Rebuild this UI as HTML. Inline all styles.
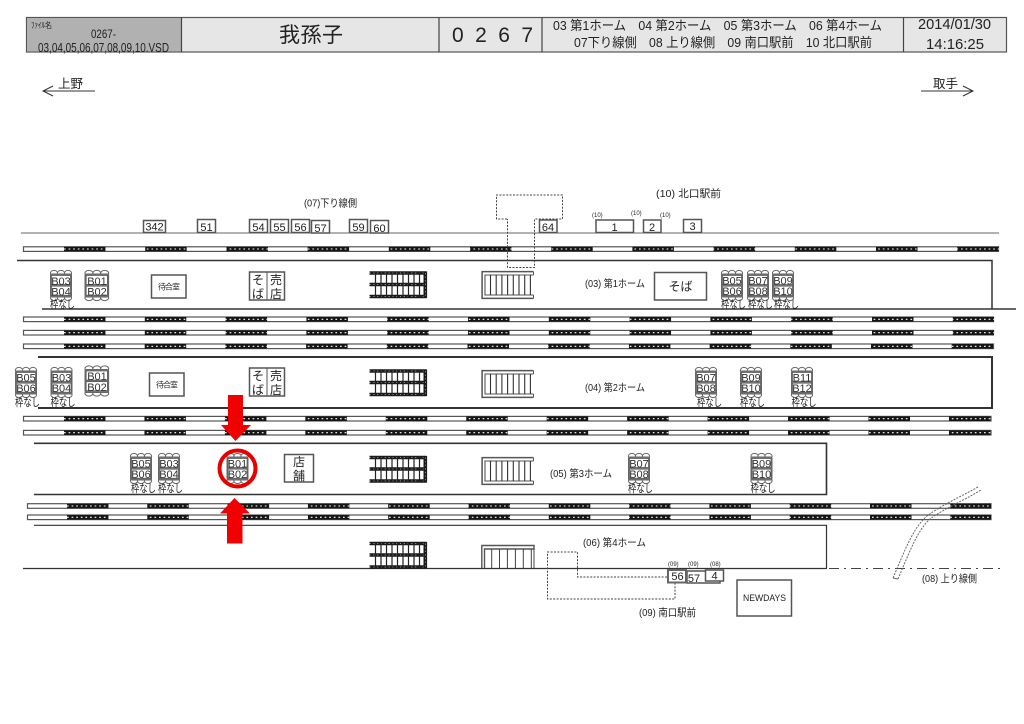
<!DOCTYPE html>
<html lang="ja"><head><meta charset="utf-8"><title>我孫子 0267</title>
<style>
html,body{margin:0;padding:0;background:#fff}
svg{display:block}
text{font-family:"Liberation Sans","Noto Sans CJK JP",sans-serif;fill:#222}
.s{font-size:8px}.m{font-size:10.5px}.b{font-size:11px}.w{font-size:12px}
.n{font-size:11px;text-anchor:middle}
.c{font-size:11px;text-anchor:middle;fill:#333}
.h{font-size:13px}
.l{stroke:#333;fill:none}
.bx{fill:#fff;stroke:#555;stroke-width:1.5}
.rail{fill:#fff;stroke:#555;stroke-width:1.2}
.dk{stroke:#151515;stroke-width:4.6}
.dt{stroke:#fff;stroke-width:1.1;stroke-dasharray:1.7 2.9}
.dot{fill:none;stroke:#444;stroke-width:1;stroke-dasharray:2 1.4}
</style></head><body>
<svg width="1024" height="724" viewBox="0 0 1024 724" xmlns="http://www.w3.org/2000/svg">
<defs>
<g id="cl">
<ellipse cx="4" cy="3.2" rx="3.6" ry="2.8" fill="#fff" stroke="#666"/><ellipse cx="11" cy="3.2" rx="3.6" ry="2.8" fill="#fff" stroke="#666"/><ellipse cx="18" cy="3.2" rx="3.6" ry="2.8" fill="#fff" stroke="#666"/>
<ellipse cx="4" cy="27.8" rx="3.6" ry="2.8" fill="#fff" stroke="#666"/><ellipse cx="11" cy="27.8" rx="3.6" ry="2.8" fill="#fff" stroke="#666"/><ellipse cx="18" cy="27.8" rx="3.6" ry="2.8" fill="#fff" stroke="#666"/>
<rect x=".5" y="4" width="21" height="23" rx="1.5" fill="#777" stroke="#666"/>
<rect x="1.5" y="5.5" width="19" height="9" fill="#fff" stroke="#555" stroke-width=".7"/>
<rect x="1.5" y="16.2" width="19" height="9" fill="#fff" stroke="#555" stroke-width=".7"/>
</g>
<g id="esc">
<path d="M0 1H57M0 12.5H54M0 24.5H57" stroke="#1a1a1a" stroke-width="3.4" fill="none"/>
<path d="M0 1H57M0 12.5H54M0 24.5H57" stroke="#bbb" stroke-width=".7" stroke-dasharray="1.2 2.6" fill="none"/>
<path d="M6 0V25M11.5 0V25M17 0V25M22.5 0V25M28 0V25M33.5 0V25M39 0V25M44.5 0V25M50 0V25" stroke="#222" stroke-width="1.2"/>
<rect x="54" y="-.5" width="3.6" height="26.5" fill="#1a1a1a"/>
<path d="M56 1V25" stroke="#bbb" stroke-dasharray="1.2 2.4" stroke-width=".7"/>
</g>
<g id="st">
<path d="M52 .6H.6V27.4H52" fill="none" stroke="#555" stroke-width="1.5"/>
<path d="M52 4H3.5V24H52" fill="none" stroke="#555" stroke-width="1.1"/>
<path d="M9 4V24M14.7 4V24M20.4 4V24M26.1 4V24M31.8 4V24M37.5 4V24M43.2 4V24M48.9 4V24" stroke="#333" stroke-width="1.1"/>
<path d="M52 .6V4M52 24V27.4" stroke="#555" stroke-width="1"/>
</g>
</defs>

<!-- header -->
<rect x="26.5" y="17.5" width="980" height="34.5" fill="#e6e6e6" stroke="#555" stroke-width="1.2"/>
<rect x="27" y="18" width="154.5" height="33.5" fill="#b1b1b1"/>
<path d="M181.5 17.5V52M439 17.5V52M542 17.5V52M903.5 17.5V52" stroke="#444" stroke-width="1.2"/>
<text x="31" y="28" class="s" textLength="21" lengthAdjust="spacingAndGlyphs">ﾌｧｲﾙ名</text>
<text x="91" y="38" style="font-size:12px" textLength="25" lengthAdjust="spacingAndGlyphs">0267-</text>
<text x="38" y="52" style="font-size:13px" textLength="131" lengthAdjust="spacingAndGlyphs">03,04,05,06,07,08,09,10.VSD</text>
<text x="279" y="42" style="font-size:21px" textLength="64">我孫子</text>
<text x="452" y="42" style="font-size:21px" textLength="81">0267</text>
<text x="553" y="30" class="h" textLength="329" lengthAdjust="spacingAndGlyphs">03 第1ホーム　04 第2ホーム　05 第3ホーム　06 第4ホーム</text>
<text x="574" y="47" class="h" textLength="298" lengthAdjust="spacingAndGlyphs">07下り線側　08 上り線側　09 南口駅前　10 北口駅前</text>
<text x="918" y="29" style="font-size:15px" textLength="73" lengthAdjust="spacingAndGlyphs">2014/01/30</text>
<text x="926" y="49" style="font-size:15px" textLength="58" lengthAdjust="spacingAndGlyphs">14:16:25</text>

<!-- direction -->
<path d="M43 91H95M53 86L43 91L53 96M921 91H973M963 86L973 91L963 96" class="l" stroke-width="1"/>
<text x="58" y="88" style="font-size:12.5px">上野</text>
<text x="933" y="88" style="font-size:12.5px">取手</text>

<!-- lines -->
<path d="M21 233H999" stroke="#666" stroke-width="1.1"/>
<path d="M17 260.5H992V309M42 309H1016" class="l" stroke-width="1.5"/>
<path d="M38 357H992V408H38" class="l" stroke-width="2"/>
<path d="M34 443.3H826.5V494.5H34" class="l" stroke-width="1.6"/>
<path d="M34 525.3H826.5V568.5M23 568.5H827" class="l" stroke-width="1.2"/>
<path d="M829 568.5H1003" stroke="#444" stroke-width="1" stroke-dasharray="10 5 2 5"/>

<!-- tracks -->
<rect x="23.5" y="246.8" width="975" height="4.6" class="rail"/><line x1="64" x2="999" y1="249" y2="249" class="dk" stroke-dasharray="41.5 39.7"/><line x1="64" x2="999" y1="249" y2="249" class="dt"/>
<rect x="23.5" y="317" width="970" height="4.6" class="rail"/><line x1="64" x2="994" y1="319.3" y2="319.3" class="dk" stroke-dasharray="41.5 39.3"/><line x1="64" x2="994" y1="319.3" y2="319.3" class="dt"/>
<rect x="23.5" y="330.4" width="970" height="4.6" class="rail"/><line x1="64" x2="994" y1="332.7" y2="332.7" class="dk" stroke-dasharray="41.5 39.3"/><line x1="64" x2="994" y1="332.7" y2="332.7" class="dt"/>
<rect x="23.5" y="344" width="970" height="4.6" class="rail"/><line x1="64" x2="993" y1="346.3" y2="346.3" class="dk" stroke-dasharray="41.5 39.2"/><line x1="64" x2="993" y1="346.3" y2="346.3" class="dt"/>
<rect x="23.5" y="416.4" width="967.5" height="4.6" class="rail"/><line x1="64" x2="991" y1="418.7" y2="418.7" class="dk" stroke-dasharray="41.5 38.95"/><line x1="64" x2="991" y1="418.7" y2="418.7" class="dt"/>
<rect x="23.5" y="430.4" width="967.5" height="4.6" class="rail"/><line x1="64" x2="991" y1="432.7" y2="432.7" class="dk" stroke-dasharray="41.5 38.95"/><line x1="64" x2="991" y1="432.7" y2="432.7" class="dt"/>
<rect x="27.5" y="503.7" width="963.5" height="4.6" class="rail"/><line x1="67" x2="991" y1="506" y2="506" class="dk" stroke-dasharray="41.5 38.8"/><line x1="67" x2="991" y1="506" y2="506" class="dt"/>
<rect x="27.5" y="515" width="963.5" height="4.6" class="rail"/><line x1="67" x2="991" y1="517.3" y2="517.3" class="dk" stroke-dasharray="41.5 38.8"/><line x1="67" x2="991" y1="517.3" y2="517.3" class="dt"/>

<!-- top boxes -->
<rect x="143.5" y="220.5" width="22" height="12" class="bx"/><text x="154.5" y="230.5" class="n">342</text>
<rect x="197.5" y="219.5" width="18" height="13" class="bx"/><text x="206.5" y="231" class="n">51</text>
<rect x="249.5" y="219.5" width="18" height="13" class="bx"/><text x="258.5" y="231" class="n">54</text>
<rect x="270.5" y="219.5" width="18" height="13" class="bx"/><text x="279.5" y="231" class="n">55</text>
<rect x="291.5" y="219.5" width="18" height="13" class="bx"/><text x="300.5" y="231" class="n">56</text>
<rect x="311.5" y="220.5" width="18" height="12.5" class="bx"/><text x="320.5" y="232" class="n">57</text>
<rect x="349.5" y="219.5" width="18" height="13" class="bx"/><text x="358.5" y="231" class="n">59</text>
<rect x="370.5" y="220.5" width="18" height="12.5" class="bx"/><text x="379.5" y="232" class="n">60</text>
<rect x="539.5" y="220" width="17.5" height="12.5" class="bx"/><text x="548" y="231" class="n">64</text>
<rect x="596" y="220" width="37.5" height="12.5" class="bx"/><text x="614.5" y="231" class="n">1</text>
<rect x="643.5" y="220" width="17.5" height="12.5" class="bx"/><text x="652" y="231" class="n">2</text>
<rect x="683.5" y="219.5" width="18" height="13" class="bx"/><text x="692.5" y="230" class="n">3</text>
<text x="304" y="206.5" class="m" textLength="53" lengthAdjust="spacingAndGlyphs">(07)下り線側</text>
<text x="656" y="197" class="m" textLength="65" lengthAdjust="spacingAndGlyphs">(10) 北口駅前</text>
<text x="592" y="217" style="font-size:6px">(10)</text><text x="631" y="215" style="font-size:6px">(10)</text><text x="660" y="217" style="font-size:6px">(10)</text>

<!-- dotted concourse -->
<path d="M507 219H496.5V195H562.5V219H534.5V267.5H507.5V219" class="dot"/>

<!-- escalators -->
<use href="#esc" x="369.5" y="272"/><use href="#esc" x="369.5" y="370"/><use href="#esc" x="369.5" y="456.5"/><use href="#esc" x="369.5" y="542.5"/>
<!-- stairs -->
<use href="#st" x="481.5" y="271"/><use href="#st" x="481.5" y="370"/><use href="#st" x="481.5" y="457"/>
<path d="M481.8 568V545.5H534V549H484.5V568M534 545.5V549" fill="none" stroke="#555" stroke-width="1.4"/>
<path d="M491.7 549V568M499.5 549V568M507.4 549V568M515.4 549V568M523.3 549V568M531.3 549V568M534 549V568" stroke="#444"/>

<!-- rooms -->
<rect x="151.5" y="275" width="34.5" height="23" class="bx"/><text x="158" y="289.5" class="s" textLength="22">待合室</text>
<rect x="149.5" y="373" width="34.5" height="23" class="bx"/><text x="156" y="387.5" class="s" textLength="22">待合室</text>
<rect x="249.5" y="272" width="35" height="28" class="bx"/><path d="M267 272V300" stroke="#555"/>
<text x="258" y="284" class="w" text-anchor="middle">そ</text><text x="258" y="298" class="w" text-anchor="middle">ば</text><text x="276" y="284" class="w" text-anchor="middle">売</text><text x="276" y="298" class="w" text-anchor="middle">店</text>
<rect x="249.5" y="368" width="35" height="28" class="bx"/><path d="M267 368V396" stroke="#555"/>
<text x="258" y="380" class="w" text-anchor="middle">そ</text><text x="258" y="394" class="w" text-anchor="middle">ば</text><text x="276" y="380" class="w" text-anchor="middle">売</text><text x="276" y="394" class="w" text-anchor="middle">店</text>
<rect x="654.5" y="272.5" width="52" height="27.5" class="bx"/><text x="680.5" y="290.5" class="w" text-anchor="middle">そば</text>
<rect x="284.5" y="454.5" width="29" height="27.5" class="bx"/><text x="299" y="466" class="w" text-anchor="middle">店</text><text x="299" y="480" class="w" text-anchor="middle">舗</text>

<!-- labels -->
<text x="585" y="287" class="m" textLength="60" lengthAdjust="spacingAndGlyphs">(03) 第1ホーム</text>
<text x="585" y="391" class="m" textLength="60" lengthAdjust="spacingAndGlyphs">(04) 第2ホーム</text>
<text x="550" y="477" class="m" textLength="62" lengthAdjust="spacingAndGlyphs">(05) 第3ホーム</text>
<text x="583" y="546" class="m" textLength="63" lengthAdjust="spacingAndGlyphs">(06) 第4ホーム</text>
<text x="639" y="616" class="m" textLength="57" lengthAdjust="spacingAndGlyphs">(09) 南口駅前</text>
<text x="922" y="582" class="m" textLength="55" lengthAdjust="spacingAndGlyphs">(08) 上り線側</text>

<!-- clusters platform 1 -->
<use href="#cl" x="50" y="270"/><text x="61" y="285" class="c">B03</text><text x="61" y="295.5" class="c">B04</text><text x="50" y="308" class="b" textLength="25" lengthAdjust="spacingAndGlyphs">枠なし</text>
<use href="#cl" transform="translate(84.5 270) scale(1.12 1)"/><text x="97" y="285" class="c">B01</text><text x="97" y="295.5" class="c">B02</text>
<use href="#cl" x="721" y="270"/><text x="732" y="284.5" class="c">B05</text><text x="732" y="295" class="c">B06</text><text x="721" y="308" class="b" textLength="25" lengthAdjust="spacingAndGlyphs">枠なし</text>
<use href="#cl" x="747" y="270"/><text x="758" y="284.5" class="c">B07</text><text x="758" y="295" class="c">B08</text><text x="748" y="308" class="b" textLength="25" lengthAdjust="spacingAndGlyphs">枠なし</text>
<use href="#cl" x="772" y="270"/><text x="783" y="284.5" class="c">B09</text><text x="783" y="295" class="c">B10</text><text x="774" y="308" class="b" textLength="25" lengthAdjust="spacingAndGlyphs">枠なし</text>
<!-- platform 2 -->
<use href="#cl" x="15" y="367"/><text x="26" y="381.5" class="c">B05</text><text x="26" y="392" class="c">B06</text><text x="15" y="406" class="b" textLength="25" lengthAdjust="spacingAndGlyphs">枠なし</text>
<use href="#cl" x="50.5" y="367"/><text x="61.5" y="381.5" class="c">B03</text><text x="61.5" y="392" class="c">B04</text><text x="50.5" y="406" class="b" textLength="25" lengthAdjust="spacingAndGlyphs">枠なし</text>
<use href="#cl" transform="translate(84.5 365.5) scale(1.12 1)"/><text x="97" y="380" class="c">B01</text><text x="97" y="391" class="c">B02</text>
<use href="#cl" x="695" y="367"/><text x="706" y="381.5" class="c">B07</text><text x="706" y="392" class="c">B08</text><text x="697" y="406" class="b" textLength="25" lengthAdjust="spacingAndGlyphs">枠なし</text>
<use href="#cl" x="740" y="367"/><text x="751" y="381.5" class="c">B09</text><text x="751" y="392" class="c">B10</text><text x="740" y="406" class="b" textLength="25" lengthAdjust="spacingAndGlyphs">枠なし</text>
<use href="#cl" x="791" y="367"/><text x="802" y="381.5" class="c">B11</text><text x="802" y="392" class="c">B12</text><text x="791.5" y="406" class="b" textLength="25" lengthAdjust="spacingAndGlyphs">枠なし</text>
<!-- platform 3 -->
<use href="#cl" x="130" y="453"/><text x="141" y="467.5" class="c">B05</text><text x="141" y="478" class="c">B06</text><text x="131" y="492" class="b" textLength="25" lengthAdjust="spacingAndGlyphs">枠なし</text>
<use href="#cl" x="158" y="453"/><text x="169" y="467.5" class="c">B03</text><text x="169" y="478" class="c">B04</text><text x="158" y="492" class="b" textLength="25" lengthAdjust="spacingAndGlyphs">枠なし</text>
<use href="#cl" x="226.5" y="453"/><text x="237.5" y="467.5" class="c">B01</text><text x="237.5" y="478" class="c">B02</text>
<use href="#cl" x="628" y="453"/><text x="639" y="467.5" class="c">B07</text><text x="639" y="478" class="c">B08</text><text x="628" y="492" class="b" textLength="25" lengthAdjust="spacingAndGlyphs">枠なし</text>
<use href="#cl" x="750.5" y="453"/><text x="761.5" y="467.5" class="c">B09</text><text x="761.5" y="478" class="c">B10</text><text x="750.5" y="492" class="b" textLength="25" lengthAdjust="spacingAndGlyphs">枠なし</text>

<!-- red marks -->
<circle cx="237.5" cy="468.5" r="18" fill="none" stroke="#e60000" stroke-width="4"/>
<path d="M228 395H243V425H251L235.5 441L221 425H228Z" fill="#f00000"/>
<path d="M234.5 498L250 513.5H242.5V543.5H227V513.5H220Z" fill="#f00000"/>

<!-- south dotted -->
<path d="M667 577H577.5V552H547.5V599H675V583" class="dot"/>

<!-- bottom boxes -->
<rect x="687" y="571" width="33" height="12" class="bx"/><text x="694" y="582" class="n" text-anchor="middle">57</text>
<rect x="668" y="570" width="18" height="12.5" fill="#fff" stroke="#666" stroke-width="2"/><text x="677.5" y="580" class="n">56</text>
<rect x="705.5" y="570" width="18" height="11" class="bx"/><text x="714.5" y="579.5" class="n">4</text>
<text x="668" y="566" style="font-size:6px">(09)</text><text x="688" y="566" style="font-size:6px">(09)</text><text x="710" y="566" style="font-size:6px">(08)</text>
<rect x="737" y="580" width="54.5" height="36" class="bx"/><text x="743" y="601" style="font-size:9.5px" textLength="43" lengthAdjust="spacingAndGlyphs">NEWDAYS</text>

<!-- curved line -->
<path d="M893 578C905 550 913 528 927 516C942 505 960 497 978 487" fill="none" stroke="#666" stroke-width="1" stroke-dasharray="2 1.2"/>
<path d="M898 579C910 551 917 531 930 519C945 508 963 501 981 490" fill="none" stroke="#666" stroke-width="1" stroke-dasharray="2 1.2"/>
<path d="M893 578L898 579" stroke="#666"/>
</svg>
</body></html>
